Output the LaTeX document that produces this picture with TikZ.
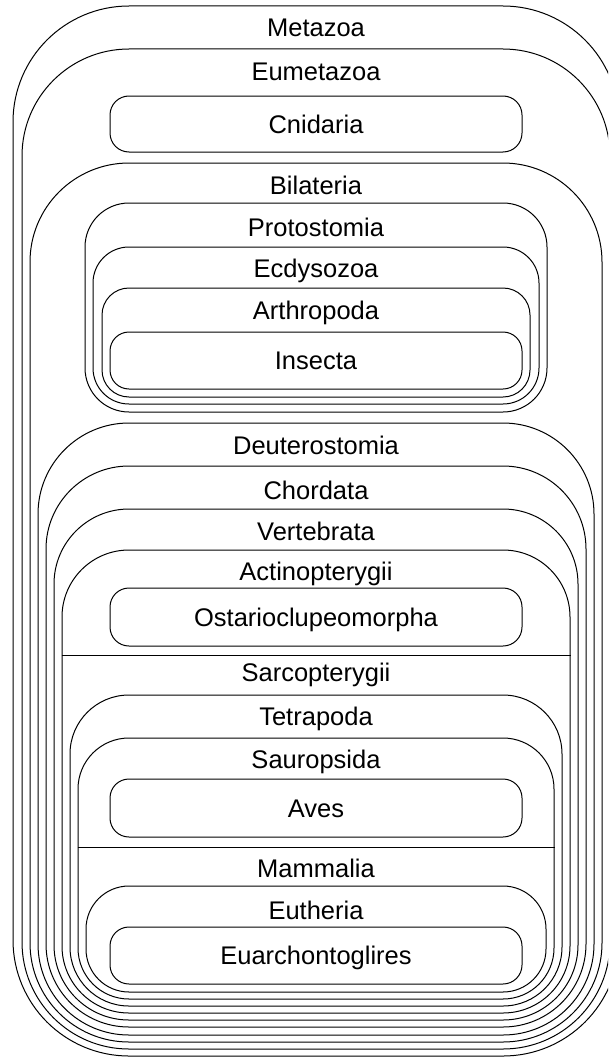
\documentclass[tikz,border=0pt]{standalone}
\usepackage{fontspec}
\setmainfont{Liberation Sans}
\usetikzlibrary{fit}

\begin{document}
\begin{tikzpicture}[
    x=1pt, y=-1pt,
    clado/.style={draw, line width=1pt, inner sep=0pt, rounded corners=#1},
    clado/.default=19pt,
    etiqueta/.style={font=\fontsize{25.5}{30}\selectfont, anchor=base, inner sep=0pt}
]

% Marco (recortado a la derecha)
\useasboundingbox (0,0) rectangle (608,1057);
\clip (0,0) rectangle (608,1057);

% Clados exteriores
\node[clado=116pt, fit={(13,6) (619,1056)}] (metazoa) {};
\node[etiqueta] (tMetazoa) at (316,37) {Metazoa};

\node[clado=107pt, fit={(22,49) (610,1049)}] (eumetazoa) {};
\node[etiqueta] (tEumetazoa) at (316,81) {Eumetazoa};

\node[clado, fit={(110,96) (522,152)}] (cnidaria) {};
\node[etiqueta] (tCnidaria) at (316,133) {Cnidaria};

\node[clado=99pt, fit={(30,163) (602,1042)}] (bilateria) {};
\node[etiqueta] (tBilateria) at (316,194) {Bilateria};

% Protostomia
\node[clado=44pt, fit={(85,203) (547,412)}] (protostomia) {};
\node[etiqueta] (tProtostomia) at (316,236) {Protostomia};

\node[clado=36pt, fit={(93,247) (539,404)}] (ecdysozoa) {};
\node[etiqueta] (tEcdysozoa) at (316,277) {Ecdysozoa};

\node[clado=27pt, fit={(102,288) (530,397)}] (arthropoda) {};
\node[etiqueta] (tArthropoda) at (316,319) {Arthropoda};

\node[clado, fit={(110,332) (522,389)}] (insecta) {};
\node[etiqueta] (tInsecta) at (316,369) {Insecta};

% Deuterostomia
\node[clado=91pt, fit={(38,423) (594,1035)}] (deuterostomia) {};
\node[etiqueta] (tDeuterostomia) at (316,454) {Deuterostomia};

\node[clado=83pt, fit={(46,466) (586,1027)}] (chordata) {};
\node[etiqueta] (tChordata) at (316,499) {Chordata};

\node[clado=75pt, fit={(54,509) (578,1020)}] (vertebrata) {};
\node[etiqueta] (tVertebrata) at (316,540) {Vertebrata};

% Actinopterygii / Sarcopterygii
\node[clado=67pt, fit={(62,550) (570,1013)}] (actino) {};
\node[etiqueta] (tActino) at (316,580) {Actinopterygii};

\node[clado, fit={(110,588) (522,646)}] (ostario) {};
\node[etiqueta] (tOstario) at (316,626) {Ostarioclupeomorpha};

\coordinate (corteSarco) at (0,655);
\draw[line width=1pt] (actino.west |- corteSarco) -- (actino.east |- corteSarco);
\node[etiqueta] (tSarco) at (316,681) {Sarcopterygii};

\node[clado=59pt, fit={(70,695) (562,1006)}] (tetrapoda) {};
\node[etiqueta] (tTetrapoda) at (316,725) {Tetrapoda};

% Sauropsida / Mammalia
\node[clado=51pt, fit={(78,738) (554,999)}] (sauropsida) {};
\node[etiqueta] (tSauropsida) at (316,768) {Sauropsida};

\node[clado, fit={(110,779) (522,837)}] (aves) {};
\node[etiqueta] (tAves) at (316,817) {Aves};

\coordinate (corteMammalia) at (0,847);
\draw[line width=1pt] (sauropsida.west |- corteMammalia) -- (sauropsida.east |- corteMammalia);
\node[etiqueta] (tMammalia) at (316,877) {Mammalia};

\node[clado=43pt, fit={(86,886) (546,992)}] (eutheria) {};
\node[etiqueta] (tEutheria) at (316,919) {Eutheria};

\node[clado, fit={(110,927) (522,984)}] (euarchonto) {};
\node[etiqueta] (tEuarchonto) at (316,964) {Euarchontoglires};

\end{tikzpicture}
\end{document}
